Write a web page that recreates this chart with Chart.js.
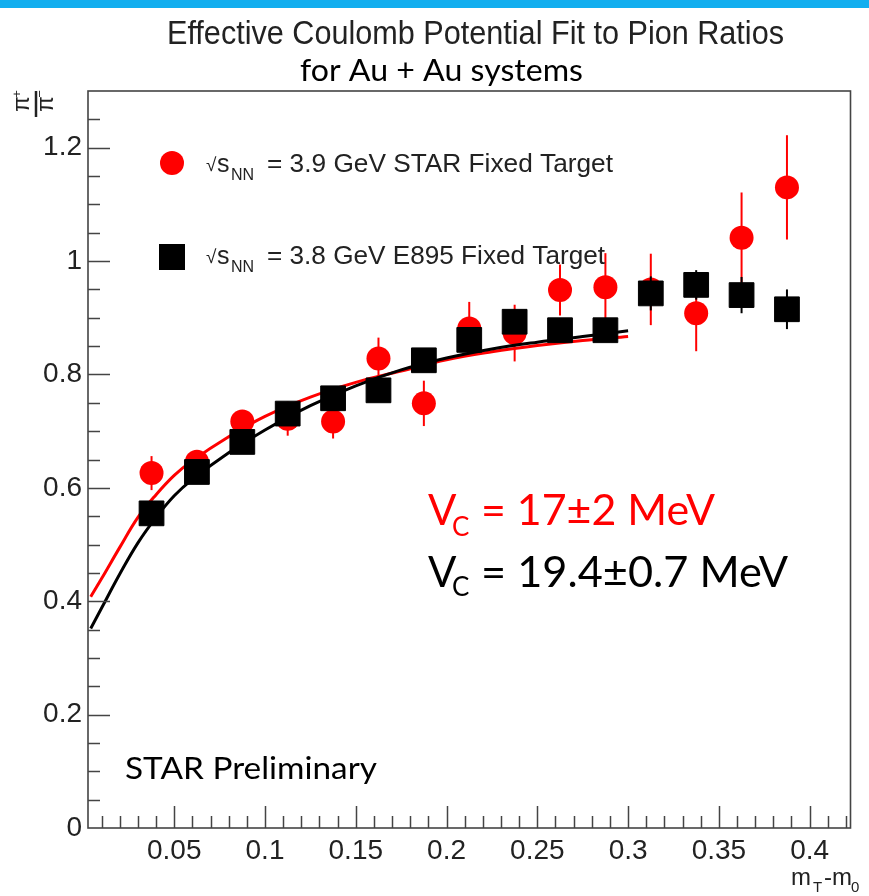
<!DOCTYPE html>
<html>
<head>
<meta charset="utf-8">
<script src="https://cdn.jsdelivr.net/npm/chart.js@4.4.0/dist/chart.umd.min.js"></script>
<style>
  html, body { margin: 0; padding: 0; background: #fff; }
  #wrap { width: 869px; height: 896px; }
</style>
</head>
<body>
<div id="wrap"><canvas id="myChart" width="869" height="896"></canvas></div>
<script>
(function () {
  'use strict';

  // m_T - m_0 bin centres
  const mtBins = [0.0375, 0.0625, 0.0875, 0.1125, 0.1375, 0.1625, 0.1875, 0.2125,
    0.2375, 0.2625, 0.2875, 0.3125, 0.3375, 0.3625, 0.3875];

  // pi+/pi- ratios, STAR 3.9 GeV (red) and E895 3.8 GeV (black)
  const starRatio = [0.626, 0.646, 0.717, 0.722, 0.717, 0.828, 0.749, 0.881,
    0.873, 0.949, 0.954, 0.950, 0.908, 1.041, 1.130];
  const starErr = [0.03, 0.02, 0.02, 0.03, 0.03, 0.037, 0.04, 0.047,
    0.05, 0.045, 0.06, 0.063, 0.067, 0.08, 0.092];
  const e895Ratio = [0.555, 0.628, 0.681, 0.731, 0.758, 0.772, 0.825, 0.861,
    0.893, 0.878, 0.878, 0.943, 0.958, 0.940, 0.915];
  const e895Err = [0.01, 0.01, 0.01, 0.01, 0.01, 0.01, 0.01, 0.012,
    0.012, 0.015, 0.015, 0.03, 0.026, 0.032, 0.035];

  // Coulomb fit curves
  const fitX = [0.004, 0.01, 0.02, 0.03, 0.04, 0.05, 0.06, 0.08, 0.1, 0.125,
    0.15, 0.175, 0.2, 0.225, 0.25, 0.275, 0.3];
  const starFit = [0.408, 0.44, 0.495, 0.548, 0.588, 0.622, 0.648, 0.69, 0.726, 0.76,
    0.786, 0.806, 0.826, 0.84, 0.851, 0.86, 0.867];
  const e895Fit = [0.352, 0.388, 0.448, 0.503, 0.548, 0.586, 0.615, 0.662, 0.702, 0.745,
    0.78, 0.808, 0.829, 0.845, 0.857, 0.867, 0.877];

  const xTickLabels = ['0.05', '0.1', '0.15', '0.2', '0.25', '0.3', '0.35', '0.4'];
  const yTickLabels = ['0', '0.2', '0.4', '0.6', '0.8', '1', '1.2'];

  const RED = '#ff0000';
  const AXIS = '#444';
  const tickFont = { family: '"Liberation Sans", Arial, sans-serif', size: 28 };

  const fitText = (ctx, text, x, y, width, font, color) => {
    ctx.save();
    ctx.font = font;
    ctx.fillStyle = color;
    ctx.textAlign = 'left';
    ctx.textBaseline = 'alphabetic';
    const w = ctx.measureText(text).width;
    ctx.translate(x, y);
    if (width) ctx.scale(width / w, 1);
    ctx.fillText(text, 0, 0);
    ctx.restore();
  };

  const errorBars = {
    id: 'errorBars',
    beforeDatasetDraw(chart, args) {
      const ds = chart.data.datasets[args.index];
      if (!ds.errors) return;
      const { ctx, scales: { x, y } } = chart;
      ctx.save();
      ctx.strokeStyle = ds.borderColor;
      ctx.lineWidth = 2;
      ds.data.forEach((p, i) => {
        const px = x.getPixelForValue(p.x);
        ctx.beginPath();
        ctx.moveTo(px, y.getPixelForValue(p.y - ds.errors[i]));
        ctx.lineTo(px, y.getPixelForValue(p.y + ds.errors[i]));
        ctx.stroke();
      });
      ctx.restore();
    }
  };

  // ROOT style frame with inward ticks
  const rootFrame = {
    id: 'rootFrame',
    afterDraw(chart) {
      const { ctx, chartArea: a, scales: { x, y } } = chart;
      ctx.save();
      ctx.strokeStyle = AXIS;
      ctx.lineWidth = 1.6;
      ctx.strokeRect(a.left, a.top, a.right - a.left, a.bottom - a.top);
      ctx.lineWidth = 1.5;
      ctx.beginPath();
      for (let k = 1; k <= 42; k++) {
        const v = k / 100;
        const px = Math.round(x.getPixelForValue(v)) + 0.5;
        const len = k % 5 === 0 ? 22 : 12;
        ctx.moveTo(px, a.bottom);
        ctx.lineTo(px, a.bottom - len);
      }
      for (let k = 1; k <= 25; k++) {
        const v = k * 0.05;
        const py = Math.round(y.getPixelForValue(v)) + 0.5;
        const len = k % 4 === 0 ? 22 : 12;
        ctx.moveTo(a.left, py);
        ctx.lineTo(a.left + len, py);
      }
      ctx.stroke();
      ctx.restore();
    }
  };

  const annotations = {
    id: 'annotations',
    afterDraw(chart) {
      const ctx = chart.ctx;
      ctx.save();
      // blue slide bar
      ctx.fillStyle = '#12aeef';
      ctx.fillRect(0, 0, 869, 8);

      fitText(ctx, 'Effective Coulomb Potential Fit to Pion Ratios', 167, 44, 617,
        '33px "Liberation Sans"', '#222');
      fitText(ctx, 'for Au + Au systems', 300, 81, 283, '31px Lato', '#000');

      // y title: pi+ / pi- fraction, rotated
      ctx.save();
      ctx.translate(36, 104);
      ctx.rotate(-Math.PI / 2);
      ctx.fillStyle = '#222';
      ctx.textAlign = 'center';
      ctx.font = '23px "Liberation Sans"';
      ctx.fillText('\u03c0', 0, -7);
      ctx.fillText('\u03c0', 0, 17);
      ctx.font = '13px "Liberation Sans"';
      ctx.fillText('+', 10, -15);
      ctx.fillText('\u2212', 10, 8);
      ctx.strokeStyle = '#222';
      ctx.lineWidth = 2.5;
      ctx.beginPath();
      ctx.moveTo(-13, 0);
      ctx.lineTo(13, 0);
      ctx.stroke();
      ctx.restore();

      // legend
      ctx.fillStyle = RED;
      ctx.beginPath();
      ctx.arc(172, 163, 12, 0, Math.PI * 2);
      ctx.fill();
      ctx.fillStyle = '#000';
      ctx.fillRect(159, 244, 26, 26);
      const leg = [
        { base: 171.5, text: '= 3.9 GeV STAR Fixed Target', end: 613 },
        { base: 263.5, text: '= 3.8 GeV E895 Fixed Target', end: 605 }
      ];
      leg.forEach((l) => {
        fitText(ctx, '\u221a', 206, l.base - 1, 0, '19px "Liberation Sans"', '#222');
        fitText(ctx, 's', 217, l.base, 0, '25px "Liberation Sans"', '#222');
        fitText(ctx, 'NN', 231, l.base + 8, 0, '16px "Liberation Sans"', '#222');
        fitText(ctx, l.text, 267, l.base, l.end - 267, '25px "Liberation Sans"', '#222');
      });

      // fit results
      fitText(ctx, 'V', 428, 525, 0, '42px Lato', RED);
      fitText(ctx, 'C', 452, 536, 0, '26px Lato', RED);
      fitText(ctx, '= 17\u00b12 MeV', 481, 525, 234, '42px Lato', RED);
      fitText(ctx, 'V', 428, 587, 0, '42px Lato', '#000');
      fitText(ctx, 'C', 452, 596, 0, '26px Lato', '#000');
      fitText(ctx, '= 19.4\u00b10.7 MeV', 481, 587, 307, '42px Lato', '#000');

      fitText(ctx, 'STAR Preliminary', 125, 779, 252, '30px Lato', '#000');

      // x title m_T - m_0
      fitText(ctx, 'm', 791, 885, 0, '24px "Liberation Sans"', '#222');
      fitText(ctx, 'T', 813, 892, 0, '15px "Liberation Sans"', '#222');
      fitText(ctx, '-', 824, 885, 0, '24px "Liberation Sans"', '#222');
      fitText(ctx, 'm', 832, 885, 0, '24px "Liberation Sans"', '#222');
      fitText(ctx, '0', 851, 892, 0, '15px "Liberation Sans"', '#222');
      ctx.restore();
    }
  };

  const ctx = document.getElementById('myChart').getContext('2d');
  const myChart = new Chart(ctx, {
    type: 'scatter',
    data: {
      datasets: [
        {
          label: 'E895 3.8 GeV',
          data: mtBins.map((x, i) => ({ x: x, y: e895Ratio[i] })),
          errors: e895Err,
          pointStyle: 'rect',
          pointRadius: 17.5,
          backgroundColor: '#000',
          borderColor: '#000',
          borderWidth: 1,
          order: 0
        },
        {
          label: 'E895 fit',
          data: fitX.map((x, i) => ({ x: x, y: e895Fit[i] })),
          showLine: true,
          pointRadius: 0,
          borderColor: '#000',
          borderWidth: 3,
          tension: 0.4,
          order: 1
        },
        {
          label: 'STAR fit',
          data: fitX.map((x, i) => ({ x: x, y: starFit[i] })),
          showLine: true,
          pointRadius: 0,
          borderColor: RED,
          borderWidth: 3,
          tension: 0.4,
          order: 2
        },
        {
          label: 'STAR 3.9 GeV',
          data: mtBins.map((x, i) => ({ x: x, y: starRatio[i] })),
          errors: starErr,
          pointStyle: 'circle',
          pointRadius: 12,
          backgroundColor: RED,
          borderColor: RED,
          borderWidth: 0,
          order: 3
        }
      ]
    },
    options: {
      responsive: false,
      animation: false,
      events: [],
      layout: { padding: { left: 0, top: 91, right: 11, bottom: 0 } },
      plugins: {
        legend: { display: false },
        tooltip: { enabled: false },
        title: { display: false }
      },
      scales: {
        x: {
          type: 'linear',
          min: 0.0025,
          max: 0.4225,
          grid: { display: false, drawTicks: false },
          border: { display: false },
          afterBuildTicks: (s) => { s.ticks = xTickLabels.map((t) => ({ value: parseFloat(t) })); },
          afterFit: (s) => { s.height = 68; },
          ticks: {
            font: tickFont,
            color: '#222',
            padding: 6,
            maxRotation: 0,
            autoSkip: false,
            callback: (v, i) => xTickLabels[i]
          }
        },
        y: {
          type: 'linear',
          min: 0,
          max: 1.3,
          grid: { display: false, drawTicks: false },
          border: { display: false },
          afterBuildTicks: (s) => { s.ticks = yTickLabels.map((t) => ({ value: parseFloat(t) })); },
          afterFit: (s) => { s.width = 88; },
          ticks: {
            font: tickFont,
            color: '#222',
            padding: 6,
            autoSkip: false,
            callback: (v, i) => yTickLabels[i]
          }
        }
      }
    },
    plugins: [errorBars, rootFrame, annotations]
  });
})();
</script>
</body>
</html>
